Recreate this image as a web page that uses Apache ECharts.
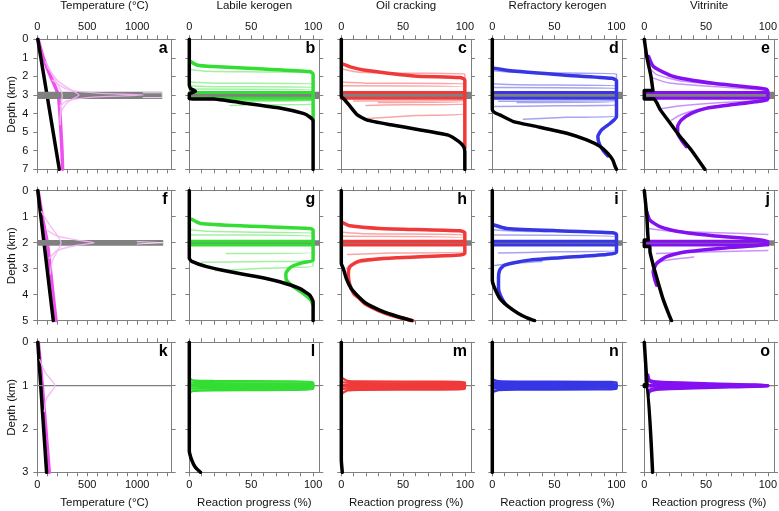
<!DOCTYPE html>
<html>
<head>
<meta charset="utf-8">
<script src="https://cdn.jsdelivr.net/npm/echarts@6/dist/echarts.min.js"></script>
<style>
  html, body { margin: 0; background: #fff; }
  #chart { width: 779px; height: 511px; }
</style>
</head>
<body>
<div id="chart"></div>
<script>
// ---- temperature panels: [temperature °C, depth km]
const aBlack = [[5, 0], [220, 7]]
const aHot = [[8, 0], [60, 1], [133, 2], [175, 2.5], [210, 3], [227, 4], [237, 5], [247, 6], [253, 7]]
const aPulses = [
  [[100, 1.5], [200, 2.2], [300, 2.6], [417, 3.0], [300, 3.4], [240, 3.9], [228, 4.6]],
  [[150, 2.2], [300, 2.7], [600, 2.9], [1060, 3.0], [600, 3.1], [300, 3.3], [225, 3.6]],
  [[80, 1.2], [160, 2.0], [250, 3.0], [232, 3.8], [230, 4.4]]
]
const aSill = [0, 1250, 2.82, 3.21]
const aSillEdge = [[1060, 2.88], [1250, 2.88], [1250, 3.14], [1060, 3.14]]

const fBlack = [[5, 0], [160, 5]]
const fHot = [[8, 0], [50, 1], [100, 2], [130, 3], [158, 4], [187, 5]]
const fPulses = [
  [[40, 0.8], [120, 1.3], [237, 2], [150, 2.7], [130, 3.2]],
  [[90, 1.5], [200, 1.75], [400, 1.9], [570, 2.0], [400, 2.1], [200, 2.3], [120, 2.6]]
]
const fSill = [0, 1260, 1.9, 2.12]
const fSillEdge = [[1000, 1.96], [1260, 2.0], [1000, 2.05]]

const kBlack = [[5, 0], [93, 3]]
const kHot = [[10, 0], [50, 1], [85, 2], [120, 3]]
const kPulses = [
  [[25, 0.4], [80, 0.7], [177, 1.0], [90, 1.3], [70, 1.6]]
]
const kSill = [0, 1345, 0.985, 1.015]

// ---- reaction panels: [progress %, depth km]
const bBlack = [[0, 0], [0, 2.45], [1, 2.65], [5, 2.8], [2, 2.88], [0, 2.92], [0, 3.2], [20, 3.22], [46, 3.45], [73, 3.7], [92, 3.99], [97, 4.17], [100, 4.38], [100, 7]]
const bThick = [[[1, 1.2], [6, 1.38], [19, 1.47], [60, 1.6], [97, 1.74], [100, 1.87], [100, 4.4]]]
const bThin = [
  [[0, 1.62], [15, 1.72], [60, 1.76], [100, 1.8], [100, 3.5], [60, 3.53], [33, 3.56]],
  [[0, 2.3], [20, 2.36], [100, 2.4], [100, 3.3], [50, 3.33], [30, 3.36]],
  [[0, 2.5], [20, 2.55], [100, 2.58], [100, 3.28], [40, 3.3]],
  [[0, 2.68], [100, 2.72], [100, 3.25], [20, 3.27]]
]
const cBlack = [[0, 0], [0, 3.1], [2, 3.2], [7, 3.6], [13, 4.07], [21, 4.35], [40, 4.6], [64, 4.88], [86, 5.15], [95, 5.5], [99, 5.78], [100, 6.05], [100, 7]]
const cThick = [[[2, 1.35], [8, 1.5], [18, 1.65], [59, 1.97], [96, 2.06], [100, 2.19], [100, 5.85]]]
const cThin = [
  [[1, 1.6], [15, 1.78], [60, 1.83], [100, 1.87], [100, 3.5], [50, 3.53], [20, 3.56]],
  [[0, 2.3], [20, 2.36], [100, 2.4], [100, 3.35], [30, 3.4]],
  [[0, 2.5], [100, 2.56], [100, 3.3], [10, 3.32]],
  [[100, 2.2], [100, 3.99], [60, 4.1], [21, 4.27]]
]
const dBlack = [[0, 0], [0, 3.8], [2, 3.95], [6, 4.07], [17, 4.43], [36, 4.7], [60, 5.06], [76, 5.42], [87, 5.78], [93, 6.14], [97, 6.5], [99, 6.86], [100, 7]]
const dThick = [[[1, 1.56], [17, 1.71], [57, 1.92], [96, 2.1], [100, 2.23], [100, 4.17], [95, 4.52], [88, 4.88], [85, 5.24], [86, 5.6], [89, 5.96], [93, 6.28]]]
const dThin = [
  [[1, 1.7], [15, 1.78], [60, 1.82], [100, 1.86], [100, 3.55], [50, 3.58], [2, 3.62]],
  [[0, 2.4], [20, 2.45], [100, 2.5], [100, 3.35], [20, 3.4]],
  [[0, 2.6], [100, 2.64], [100, 3.3], [5, 3.33]],
  [[100, 2.3], [100, 4.15], [60, 4.2], [25, 4.3]]
]
const eBlack = [[0, 0], [2, 0.93], [5.4, 2.0], [7, 2.76], [0, 2.76], [0, 3.22], [8, 3.22], [13, 3.8], [21, 4.52], [29, 5.24], [38, 5.96], [49, 7]]
const eThick = [[[3.5, 0.93], [7.5, 1.47], [23.6, 2.0], [55.8, 2.37], [88, 2.59], [98.7, 2.69], [100, 2.82], [100, 3.23], [90, 3.36], [69, 3.54], [50, 3.72], [38, 3.99], [30, 4.35], [27, 4.7], [27, 5.06], [30, 5.42], [34, 5.78]]]
const eThin = [
  [[4, 1.55], [10, 1.9], [30, 2.25], [70, 2.5], [100, 2.7]],
  [[5.5, 2.05], [20, 2.35], [60, 2.56], [100, 2.74]],
  [[100, 3.28], [60, 3.42], [30, 3.58], [12, 3.75]],
  [[100, 3.33], [70, 3.5], [45, 3.75], [30, 4.05], [22, 4.35]]
]

const gBlack = [[0, 0], [0, 2.6], [2, 2.72], [14, 2.92], [33, 3.12], [54, 3.3], [73, 3.5], [89, 3.76], [97, 4.0], [100, 4.27], [100, 5]]
const gThick = [[[2, 1.1], [9, 1.26], [46, 1.36], [97, 1.45], [100, 1.51], [100, 2.67], [92, 2.76], [82.5, 2.92], [78, 3.18], [78.5, 3.44], [84, 3.69], [92, 3.95], [98, 4.2], [100, 4.4]]]
const gThin = [
  [[1, 1.5], [15, 1.56], [60, 1.6], [100, 1.63], [100, 2.7], [50, 2.73], [10, 2.75]],
  [[1, 1.7], [100, 1.76], [100, 2.38], [30, 2.42]],
  [[100, 2.5], [100, 2.9], [60, 2.98], [21, 3.08]]
]
const hBlack = [[0, 0], [0, 2.8], [1.6, 2.99], [4, 3.37], [8, 3.76], [14, 4.08], [20, 4.33], [31, 4.59], [42, 4.78], [57, 5.0]]
const hThick = [[[1, 1.22], [7, 1.35], [31, 1.45], [96, 1.54], [100, 1.62], [100, 2.41], [96, 2.47], [45, 2.58], [15, 2.7], [7, 2.92], [5.7, 3.24], [7, 3.63], [10, 3.95], [14, 4.12], [19.5, 4.36], [30, 4.61], [41, 4.8], [58, 5.0]]]
const hThin = [
  [[1, 1.6], [20, 1.66], [100, 1.7], [100, 2.35], [40, 2.4], [5, 2.45]],
  [[1, 1.75], [100, 1.82], [100, 2.3]],
  [[40, 2.62], [20, 2.72], [8, 2.85], [4, 3.0]]
]
const iBlack = [[0, 0], [0, 3.44], [2, 3.76], [6, 4.14], [13, 4.46], [21, 4.72], [29, 4.91], [34, 5]]
const iThick = [[[1.3, 1.32], [11.5, 1.45], [57, 1.55], [97, 1.62], [100, 1.68], [100, 2.37], [92, 2.45], [30, 2.67], [10, 2.86], [6, 3.05], [5, 3.37], [5, 3.76], [7, 4.08], [10, 4.33]]]
const iThin = [
  [[1, 1.5], [20, 1.56], [100, 1.6], [100, 2.3], [50, 2.35], [5, 2.4]],
  [[1, 1.7], [100, 1.78], [100, 2.2]],
  [[40, 2.72], [15, 2.8], [2, 2.88]]
]
const jBlack = [[0, 0], [2, 0.94], [2.7, 1.58], [3.2, 1.9], [0, 1.9], [0, 2.15], [4.5, 2.15], [4.6, 2.35], [7.2, 2.86], [11, 3.5], [15, 4.14], [19, 4.65], [22, 5]]
const jThick = [[[2, 0.81], [4.5, 1.13], [12.6, 1.38], [28.7, 1.58], [55.5, 1.73], [87.7, 1.86], [98.4, 1.94], [100, 2.03], [90, 2.12], [61, 2.22], [34, 2.35], [18, 2.54], [10, 2.8], [7.2, 3.12], [8.6, 3.44], [10, 3.63]]]
const jThin = [
  [[3, 1.45], [20, 1.55], [60, 1.62], [100, 1.68]],
  [[100, 2.3], [50, 2.36], [10, 2.42]],
  [[40, 2.55], [15, 2.7], [6, 2.9]]
]

const lBlack = [[0, 0], [0, 2.5], [2, 2.72], [4.6, 2.87], [9, 3]]
const lThick = [
  [[0, 0.83], [3, 0.88], [20, 0.895], [100, 0.915], [100, 1.085], [20, 1.105], [3, 1.12], [0, 1.17]],
  [[0, 0.93], [15, 0.945], [100, 0.955], [100, 1.045], [15, 1.055], [0, 1.07]],
  [[0, 1.0], [100, 1.0]]
]
const mBlack = [[0, 0], [0, 2.7], [0.8, 3]]
const mThick = [
  [[1, 0.83], [5, 0.89], [15, 0.905], [100, 0.92], [100, 1.08], [15, 1.095], [5, 1.11], [1, 1.17]],
  [[0, 0.92], [10, 0.945], [100, 0.955], [100, 1.045], [10, 1.055], [0, 1.08]],
  [[0, 1.0], [100, 1.0]]
]
const nBlack = [[0, 0], [0, 3]]
const nThick = [
  [[1, 0.87], [5, 0.9], [20, 0.91], [100, 0.92], [100, 1.08], [20, 1.09], [5, 1.1], [1, 1.14]],
  [[0, 0.94], [100, 0.955], [100, 1.045], [0, 1.06]],
  [[0, 1.0], [100, 1.0]]
]
const oBlack = [[0, 0], [2.2, 0.98], [0, 0.98], [0, 1.02], [2.3, 1.02], [6.7, 3]]
const oThick = [
  [[3.2, 0.75], [4.6, 0.87], [12.6, 0.91], [55, 0.95], [100, 0.985], [100, 1.015], [55, 1.05], [12.6, 1.09], [4.6, 1.14], [3.2, 1.25]],
  [[2.5, 0.85], [6, 0.93], [30, 0.965], [100, 0.99], [100, 1.01], [30, 1.035], [6, 1.07], [2.5, 1.15]],
  [[2, 1], [100, 1]]
]

// sill depth (top, bottom) per row, and the coloured lines at the sill margins
const sillRows = [[2.82, 3.21], [1.91, 2.12], [0.985, 1.015]]
const sillEdges = [[2.86, 3.17], [1.94, 2.09], []]

const depthMax = [7, 5, 3]
const colTitles = ['Temperature (°C)', 'Labile kerogen', 'Oil cracking', 'Refractory kerogen', 'Vitrinite']
const bottomTitles = ['Temperature (°C)', 'Reaction progress (%)', 'Reaction progress (%)', 'Reaction progress (%)', 'Reaction progress (%)']
const tempTicks = [0, 100, 200, 300, 400, 500, 600, 700, 800, 900, 1000, 1100, 1200, 1300]
const tempLabels = [0, 500, 1000]
const pctTicks = [0, 10, 20, 30, 40, 50, 60, 70, 80, 90, 100]
const pctLabels = [0, 50, 100]
const letters = 'abcdefghijklmno'

const GREEN = '#33dd33'
const RED = '#f03a3a'
const BLUE = '#3636e4'
const PURPLE = '#8410f2'
const MAGENTA = '#ee4fee'
const PINK = '#f6b4f6'
const GRAY = '#7f7f7f'
const TXT = '#111'
const FONT = '"Liberation Sans", Arial, Helvetica, sans-serif'

const tempPanels = [
  { black: aBlack, hot: aHot, pulses: aPulses, sill: aSill, edge: aSillEdge },
  { black: fBlack, hot: fHot, pulses: fPulses, sill: fSill, edge: fSillEdge },
  { black: kBlack, hot: kHot, pulses: kPulses, sill: kSill, edge: null }
]
const reactPanels = [
  [
    { color: GREEN, black: bBlack, thick: bThick, thin: bThin },
    { color: RED, black: cBlack, thick: cThick, thin: cThin },
    { color: BLUE, black: dBlack, thick: dThick, thin: dThin },
    { color: PURPLE, black: eBlack, thick: eThick, thin: eThin }
  ],
  [
    { color: GREEN, black: gBlack, thick: gThick, thin: gThin },
    { color: RED, black: hBlack, thick: hThick, thin: hThin },
    { color: BLUE, black: iBlack, thick: iThick, thin: iThin },
    { color: PURPLE, black: jBlack, thick: jThick, thin: jThin }
  ],
  [
    { color: GREEN, black: lBlack, thick: lThick, thin: [] },
    { color: RED, black: mBlack, thick: mThick, thin: [] },
    { color: BLUE, black: nBlack, thick: nThick, thin: [] },
    { color: PURPLE, black: oBlack, thick: oThick, thin: [] }
  ]
]

// layout
const colLeft = [37.3, 189.3, 341.3, 492.3, 644.3]
const colWidth = [134.4, 130, 129.7, 130.4, 129.7]
const rowTop = [39.3, 190.7, 342.3]
const panelH = 130

const grids = []
const xAxes = []
const yAxes = []
const series = []
const graphics = []

const nameStyle = { color: TXT, fontSize: 11.5, fontFamily: FONT }
const hiddenLabel = () => ({ show: false, formatter: () => '' })
const numLabel = (vals) => ({
  show: true, customValues: vals, formatter: (v) => String(v),
  color: TXT, fontSize: 11, fontFamily: FONT, margin: 7
})

const addLine = (gi, data, color, width, opacity, z, smooth) => {
  series.push({
    type: 'line', xAxisIndex: gi * 2, yAxisIndex: gi * 2, data,
    symbol: 'none', silent: true, z, smooth: smooth === undefined ? 0.2 : smooth,
    lineStyle: { color, width, opacity, cap: 'round', join: 'round' }
  })
}
const addBand = (gi, x0, x1, d0, d1, z) => {
  series.push({
    type: 'line', xAxisIndex: gi * 2, yAxisIndex: gi * 2, data: [], silent: true,
    markArea: {
      silent: true, z, itemStyle: { color: '#808080' }, label: { show: false },
      data: [[{ coord: [x0, d0] }, { coord: [x1, d1] }]]
    }
  })
}

for (let r = 0; r < 3; r++) {
  for (let c = 0; c < 5; c++) {
    const gi = grids.length
    const isT = c === 0
    const xmax = isT ? 1345 : 105
    const labVals = isT ? tempLabels : pctLabels
    grids.push({ left: colLeft[c], top: rowTop[r], width: colWidth[c], height: panelH, outerBoundsMode: 'none' })
    const xBase = () => ({
      type: 'value', gridIndex: gi, min: 0, max: xmax, splitLine: { show: false },
      axisLine: { show: true, onZero: false, lineStyle: { color: GRAY, width: 1 } },
      axisTick: { show: true, length: 4, customValues: isT ? tempTicks : pctTicks, lineStyle: { color: GRAY } }
    })
    xAxes.push(Object.assign(xBase(), {
      position: 'top',
      axisLabel: r === 0 ? numLabel(labVals) : hiddenLabel(),
      name: r === 0 ? colTitles[c] : '', nameLocation: 'middle', nameGap: 27, nameTextStyle: nameStyle
    }))
    xAxes.push(Object.assign(xBase(), {
      position: 'bottom',
      axisLabel: r === 2 ? numLabel(labVals) : hiddenLabel(),
      name: r === 2 ? bottomTitles[c] : '', nameLocation: 'middle', nameGap: 25, nameTextStyle: nameStyle
    }))
    const yBase = () => ({
      type: 'value', gridIndex: gi, min: 0, max: depthMax[r], interval: 1, inverse: true,
      splitLine: { show: false },
      axisLine: { show: true, onZero: false, lineStyle: { color: GRAY, width: 1 } },
      axisTick: { show: true, length: 4, lineStyle: { color: GRAY } }
    })
    yAxes.push(Object.assign(yBase(), {
      position: 'left',
      axisLabel: isT ? { show: true, color: TXT, fontSize: 11, fontFamily: FONT, margin: 9 } : hiddenLabel(),
      name: isT ? 'Depth (km)' : '', nameLocation: 'middle', nameRotate: 90, nameGap: 19, nameTextStyle: nameStyle
    }))
    yAxes.push(Object.assign(yBase(), { position: 'right', axisLabel: hiddenLabel() }))

    if (isT) {
      const p = tempPanels[r]
      addLine(gi, p.hot, MAGENTA, 3.5, 1, 3)
      addLine(gi, p.black, '#000', 3.5, 1, 4, false)
      addBand(gi, p.sill[0], p.sill[1], p.sill[2], p.sill[3], 5)
      p.pulses.forEach((d) => addLine(gi, d, PINK, 1.4, 0.9, 6))
      if (p.edge) addLine(gi, p.edge, '#f3d6f3', 1, 1, 6, false)
    } else {
      const p = reactPanels[r][c - 1]
      addBand(gi, 0, 105, sillRows[r][0], sillRows[r][1], 1)
      p.thin.forEach((d) => addLine(gi, d, p.color, 1.5, 0.45, 2))
      sillEdges[r].forEach((dep) => addLine(gi, [[0, dep], [100, dep]], p.color, 3, 1, 3, false))
      p.thick.forEach((d, k) => addLine(gi, d, p.color, r === 2 ? (k === p.thick.length - 1 ? 3.5 : 2.4) : 3.5, 1, 3))
      addLine(gi, p.black, '#000', 3.5, 1, 4, r === 2 ? 0.2 : 0.15)
    }

    graphics.push({
      type: 'text',
      x: colLeft[c] + colWidth[c] - 4,
      y: rowTop[r] + 1,
      style: { text: letters[r * 5 + c], font: 'bold 16px ' + FONT, fill: '#000', align: 'right', verticalAlign: 'top' }
    })
  }
}

const chart = echarts.init(document.getElementById('chart'))
chart.setOption({
  animation: false,
  backgroundColor: '#fff',
  grid: grids,
  xAxis: xAxes,
  yAxis: yAxes,
  series,
  graphic: graphics
})
</script>
</body>
</html>
